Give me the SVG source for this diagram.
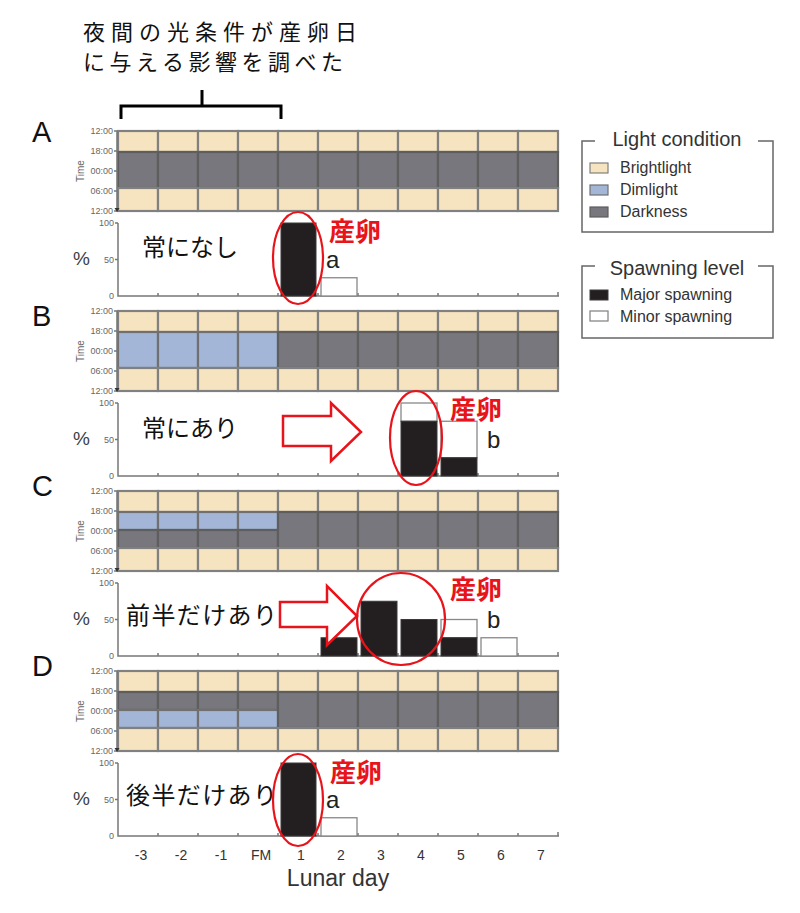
<svg xmlns="http://www.w3.org/2000/svg" width="800" height="913" viewBox="0 0 800 913">
<style>
.br{fill:#f5e4bf;stroke:#808080;stroke-width:2.2}
.dm{fill:#a3b6d8;stroke:#707070;stroke-width:2.2}
.dk{fill:#77777d;stroke:#5e5e5e;stroke-width:2.2}
.ax{stroke:#777;stroke-width:1.5;fill:none}
.tl{font-family:"Liberation Sans",Arial,sans-serif;font-size:9px;fill:#666;text-anchor:end}
.pct{font-family:"Liberation Sans",Arial,sans-serif;font-size:19px;fill:#3a3f4a}
.tm{font-family:"Liberation Sans",Arial,sans-serif;font-size:10px;fill:#666;text-anchor:middle}
.blk{fill:#231f20;stroke:#3a3a3a;stroke-width:1}
.wht{fill:#fff;stroke:#888;stroke-width:1.3}
.ell{fill:none;stroke:#e8141b;stroke-width:2.2}
.arr{fill:#fff;stroke:#e8141b;stroke-width:2.5;stroke-linejoin:miter}
.spn{font-family:"Noto Sans CJK JP",sans-serif;font-size:26px;font-weight:bold;fill:#e8141b}
.let{font-family:"Liberation Sans",Arial,sans-serif;font-size:24px;fill:#222}
.jp{font-family:"Noto Sans CJK JP",sans-serif;font-size:24px;fill:#111}
.big{font-family:"Liberation Sans",Arial,sans-serif;font-size:29px;fill:#111}
.xl{font-family:"Liberation Sans",Arial,sans-serif;font-size:14px;fill:#333;text-anchor:middle}
.lg{font-family:"Liberation Sans",Arial,sans-serif;font-size:16px;fill:#333}
.lgt{font-family:"Liberation Sans",Arial,sans-serif;font-size:20px;fill:#333;text-anchor:middle}
.box{fill:none;stroke:#666;stroke-width:1.5}
.ttl{font-family:"Noto Sans CJK JP",sans-serif;font-size:22px;fill:#111}
</style>
<defs>
<g id="cDark"><rect class="br" x="0" y="0" width="40" height="21"/><rect class="dk" x="0" y="21" width="40" height="36"/><rect class="br" x="0" y="57" width="40" height="23"/></g>
<g id="cDim"><rect class="br" x="0" y="0" width="40" height="21"/><rect class="dm" x="0" y="21" width="40" height="36"/><rect class="br" x="0" y="57" width="40" height="23"/></g>
<g id="cDimDark"><rect class="br" x="0" y="0" width="40" height="21"/><rect class="dm" x="0" y="21" width="40" height="18"/><rect class="dk" x="0" y="39" width="40" height="18"/><rect class="br" x="0" y="57" width="40" height="23"/></g>
<g id="cDarkDim"><rect class="br" x="0" y="0" width="40" height="21"/><rect class="dk" x="0" y="21" width="40" height="18"/><rect class="dm" x="0" y="39" width="40" height="18"/><rect class="br" x="0" y="57" width="40" height="23"/></g>
</defs>
<rect width="800" height="913" fill="#fff"/>

<g id="title">
<text class="ttl" x="83" y="40" textLength="274" lengthAdjust="spacing">夜間の光条件が産卵日</text>
<text class="ttl" x="83" y="70" textLength="260" lengthAdjust="spacing">に与える影響を調べた</text>
<path d="M121,119 V106 H281 V119 M202,106 V90" fill="none" stroke="#000" stroke-width="3"/>
</g>

<g id="legend">
<path class="box" d="M595,141 H582 V232 H773 V141 H758"/>
<text class="lgt" x="677" y="146">Light condition</text>
<rect class="br" x="590" y="163" width="18" height="10" style="stroke-width:1.2"/>
<text class="lg" x="620" y="173">Brightlight</text>
<rect class="dm" x="590" y="185" width="18" height="10" style="stroke-width:1.2"/>
<text class="lg" x="620" y="195">Dimlight</text>
<rect class="dk" x="590" y="207" width="18" height="10" style="stroke-width:1.2"/>
<text class="lg" x="620" y="217">Darkness</text>
<path class="box" d="M595,266 H582 V338 H773 V266 H758"/>
<text class="lgt" x="677" y="275">Spawning level</text>
<rect class="blk" x="590" y="290" width="18" height="10"/>
<text class="lg" x="620" y="300">Major spawning</text>
<rect class="wht" x="590" y="311" width="18" height="10"/>
<text class="lg" x="620" y="322">Minor spawning</text>
</g>

<text class="big" x="32" y="142">A</text>
<text class="big" x="32" y="326">B</text>
<text class="big" x="32" y="496">C</text>
<text class="big" x="32" y="676">D</text>

<g id="panelA" transform="translate(0,131)">
<use href="#cDark" x="118"/><use href="#cDark" x="158"/><use href="#cDark" x="198"/><use href="#cDark" x="238"/>
<use href="#cDark" x="278"/><use href="#cDark" x="318"/><use href="#cDark" x="358"/><use href="#cDark" x="398"/><use href="#cDark" x="438"/><use href="#cDark" x="478"/><use href="#cDark" x="518"/>
<path class="ax" d="M117,0 V80 M114,0 H117 M114,20 H117 M114,40 H117 M114,60 H117 M114,80 H117"/>
<polygon points="114.5,77 119.5,77 117,81" fill="#333"/>
<text class="tl" x="113" y="3">12:00</text><text class="tl" x="113" y="23">18:00</text><text class="tl" x="113" y="43">00:00</text><text class="tl" x="113" y="63">06:00</text><text class="tl" x="113" y="83">12:00</text>
<text class="tm" transform="translate(84,40) rotate(-90)">Time</text>
<path class="ax" d="M118,92 V165 H559 M115,92 H118 M115,128.5 H118 M158,165 V162 M198,165 V162 M238,165 V162 M278,165 V162 M318,165 V162 M358,165 V162 M398,165 V162 M438,165 V162 M478,165 V162 M518,165 V162 M558,165 V161"/>
<text class="tl" x="114" y="95">100</text><text class="tl" x="114" y="131.5">50</text><text class="tl" x="114" y="168">0</text>
<text class="pct" x="73" y="134">%</text>
<text class="jp" x="142" y="125">常になし</text>
<rect class="blk" x="281" y="92" width="35" height="73"/>
<rect class="wht" x="321" y="146.75" width="36" height="18.25"/>
<ellipse class="ell" cx="298" cy="127" rx="25" ry="46"/>
<text class="spn" x="329" y="110">産卵</text>
<text class="let" x="326" y="137">a</text>
</g>

<g id="panelB" transform="translate(0,311)">
<use href="#cDim" x="118"/><use href="#cDim" x="158"/><use href="#cDim" x="198"/><use href="#cDim" x="238"/>
<use href="#cDark" x="278"/><use href="#cDark" x="318"/><use href="#cDark" x="358"/><use href="#cDark" x="398"/><use href="#cDark" x="438"/><use href="#cDark" x="478"/><use href="#cDark" x="518"/>
<path class="ax" d="M117,0 V80 M114,0 H117 M114,20 H117 M114,40 H117 M114,60 H117 M114,80 H117"/>
<polygon points="114.5,77 119.5,77 117,81" fill="#333"/>
<text class="tl" x="113" y="3">12:00</text><text class="tl" x="113" y="23">18:00</text><text class="tl" x="113" y="43">00:00</text><text class="tl" x="113" y="63">06:00</text><text class="tl" x="113" y="83">12:00</text>
<text class="tm" transform="translate(84,40) rotate(-90)">Time</text>
<path class="ax" d="M118,92 V165 H559 M115,92 H118 M115,128.5 H118 M158,165 V162 M198,165 V162 M238,165 V162 M278,165 V162 M318,165 V162 M358,165 V162 M398,165 V162 M438,165 V162 M478,165 V162 M518,165 V162 M558,165 V161"/>
<text class="tl" x="114" y="95">100</text><text class="tl" x="114" y="131.5">50</text><text class="tl" x="114" y="168">0</text>
<text class="pct" x="73" y="134">%</text>
<text class="jp" x="142" y="126">常にあり</text>
<polygon class="arr" points="283,105 331,105 331,92 361,121 331,150 331,135 283,135"/>
<rect class="wht" x="401" y="92" width="36" height="18.25"/>
<rect class="blk" x="401" y="110.25" width="36" height="54.75"/>
<rect class="wht" x="441" y="110.25" width="36" height="36.5"/>
<rect class="blk" x="441" y="146.75" width="36" height="18.25"/>
<ellipse class="ell" cx="416" cy="127" rx="26" ry="47"/>
<text class="spn" x="450" y="108">産卵</text>
<text class="let" x="487" y="137">b</text>
</g>

<g id="panelC" transform="translate(0,491)">
<use href="#cDimDark" x="118"/><use href="#cDimDark" x="158"/><use href="#cDimDark" x="198"/><use href="#cDimDark" x="238"/>
<use href="#cDark" x="278"/><use href="#cDark" x="318"/><use href="#cDark" x="358"/><use href="#cDark" x="398"/><use href="#cDark" x="438"/><use href="#cDark" x="478"/><use href="#cDark" x="518"/>
<path class="ax" d="M117,0 V80 M114,0 H117 M114,20 H117 M114,40 H117 M114,60 H117 M114,80 H117"/>
<polygon points="114.5,77 119.5,77 117,81" fill="#333"/>
<text class="tl" x="113" y="3">12:00</text><text class="tl" x="113" y="23">18:00</text><text class="tl" x="113" y="43">00:00</text><text class="tl" x="113" y="63">06:00</text><text class="tl" x="113" y="83">12:00</text>
<text class="tm" transform="translate(84,40) rotate(-90)">Time</text>
<path class="ax" d="M118,92 V165 H559 M115,92 H118 M115,128.5 H118 M158,165 V162 M198,165 V162 M238,165 V162 M278,165 V162 M318,165 V162 M358,165 V162 M398,165 V162 M438,165 V162 M478,165 V162 M518,165 V162 M558,165 V161"/>
<text class="tl" x="114" y="95">100</text><text class="tl" x="114" y="131.5">50</text><text class="tl" x="114" y="168">0</text>
<text class="pct" x="73" y="134">%</text>
<text class="jp" x="126" y="133" textLength="151" lengthAdjust="spacing">前半だけあり</text>
<rect class="blk" x="321" y="146.75" width="36" height="18.25"/>
<rect class="blk" x="361" y="110.25" width="36" height="54.75"/>
<rect class="blk" x="401" y="128.5" width="36" height="36.5"/>
<rect class="wht" x="441" y="128.5" width="36" height="18.25"/>
<rect class="blk" x="441" y="146.75" width="36" height="18.25"/>
<rect class="wht" x="481" y="146.75" width="36" height="18.25"/>
<polygon class="arr" points="280,111 327,111 327,95 357,125 327,154 327,136 280,136"/>
<ellipse class="ell" cx="401" cy="128" rx="44" ry="46"/>
<text class="spn" x="450" y="108">産卵</text>
<text class="let" x="487" y="137">b</text>
</g>

<g id="panelD" transform="translate(0,671)">
<use href="#cDarkDim" x="118"/><use href="#cDarkDim" x="158"/><use href="#cDarkDim" x="198"/><use href="#cDarkDim" x="238"/>
<use href="#cDark" x="278"/><use href="#cDark" x="318"/><use href="#cDark" x="358"/><use href="#cDark" x="398"/><use href="#cDark" x="438"/><use href="#cDark" x="478"/><use href="#cDark" x="518"/>
<path class="ax" d="M117,0 V80 M114,0 H117 M114,20 H117 M114,40 H117 M114,60 H117 M114,80 H117"/>
<polygon points="114.5,77 119.5,77 117,81" fill="#333"/>
<text class="tl" x="113" y="3">12:00</text><text class="tl" x="113" y="23">18:00</text><text class="tl" x="113" y="43">00:00</text><text class="tl" x="113" y="63">06:00</text><text class="tl" x="113" y="83">12:00</text>
<text class="tm" transform="translate(84,40) rotate(-90)">Time</text>
<path class="ax" d="M118,92 V165 H559 M115,92 H118 M115,128.5 H118 M158,165 V162 M198,165 V162 M238,165 V162 M278,165 V162 M318,165 V162 M358,165 V162 M398,165 V162 M438,165 V162 M478,165 V162 M518,165 V162 M558,165 V161"/>
<text class="tl" x="114" y="95">100</text><text class="tl" x="114" y="131.5">50</text><text class="tl" x="114" y="168">0</text>
<text class="pct" x="73" y="134">%</text>
<text class="jp" x="126" y="133" textLength="151" lengthAdjust="spacing">後半だけあり</text>
<rect class="blk" x="281" y="92" width="35" height="73"/>
<rect class="wht" x="321" y="146.75" width="36" height="18.25"/>
<ellipse class="ell" cx="298" cy="129" rx="25" ry="46"/>
<text class="spn" x="330" y="111">産卵</text>
<text class="let" x="326" y="137">a</text>
</g>

<g id="xaxis">
<text class="xl" x="141" y="860">-3</text><text class="xl" x="181" y="860">-2</text><text class="xl" x="221" y="860">-1</text><text class="xl" x="261" y="860">FM</text>
<text class="xl" x="301" y="860">1</text><text class="xl" x="341" y="860">2</text><text class="xl" x="381" y="860">3</text><text class="xl" x="421" y="860">4</text>
<text class="xl" x="461" y="860">5</text><text class="xl" x="501" y="860">6</text><text class="xl" x="541" y="860">7</text>
<text x="338" y="886" text-anchor="middle" style="font-family:'Liberation Sans',Arial,sans-serif;font-size:23px;fill:#333">Lunar day</text>
</g>
</svg>
